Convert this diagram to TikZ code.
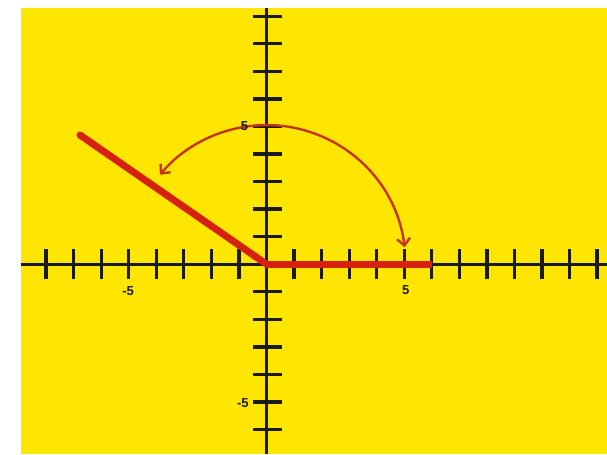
\documentclass[tikz,border=0pt]{standalone}
\usepackage{fontspec}
\setmainfont{Liberation Sans}
\usetikzlibrary{arrows.meta}
\definecolor{bgyellow}{HTML}{FFE600}
\definecolor{rayred}{HTML}{D8200E}
\definecolor{arcred}{HTML}{C4351C}
\definecolor{axisblack}{HTML}{1A1A14}
\tikzset{
  axisline/.style={draw=axisblack, line width=3pt},
  tickmark/.style={draw=axisblack, line width=3.3pt},
  rayline/.style={draw=rayred, line width=7pt},
  turnarc/.style={draw=arcred, line width=2.4pt, {Straight Barb[length=7pt,width=13pt,line width=2.4pt]}-{Straight Barb[length=7pt,width=13pt,line width=2.4pt]}},
  numlabel/.style={font=\fontsize{13}{13}\selectfont\bfseries, text=axisblack, inner sep=0pt}
}
\begin{document}
\begin{tikzpicture}[x=27.55pt,y=27.55pt]
\useasboundingbox (-9.673,-6.889) rectangle (12.359,9.590);
\fill[bgyellow] (-8.911,-6.889) rectangle (12.359,9.300);
% axes
\coordinate (O) at (0,0);
\coordinate (xl) at (-8.911,0);
\coordinate (xr) at (12.359,0);
\coordinate (yt) at (0,9.300);
\coordinate (yb) at (0,-6.889);
\draw[axisline] (xl) -- (xr);
\draw[axisline] (yt) -- (yb);
\foreach \i in {-8,...,-1,1,2,...,12}
  \draw[tickmark] (\i,-0.55) -- (\i,0.55);
\foreach \j in {-6,...,-1,1,2,...,9}
  \draw[tickmark] (-0.50,\j) -- (0.55,\j);
% red rays
\coordinate (A) at (6,0);
\coordinate (B) at (-6.77,4.69);
\draw[rayline] (O) -- (A);
\draw[rayline, line cap=round] (O) -- (B);
% arc
\coordinate (arcstart) at (7:5.05);
\draw[turnarc] (arcstart) arc[start angle=7, end angle=140, radius=5.05];
% labels
\node[numlabel] (ly5) at (-0.80,5.0) {5};
\node[numlabel] (lym5) at (-0.86,-5.03) {-5};
\node[numlabel] (lxm5) at (-5.02,-0.96) {-5};
\node[numlabel] (lx5) at (5.05,-0.94) {5};
\end{tikzpicture}
\end{document}
